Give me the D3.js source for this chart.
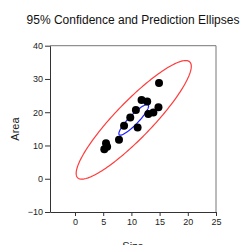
<!DOCTYPE html>
<html><head><meta charset="utf-8">
<script src="https://cdn.jsdelivr.net/npm/d3@7"></script>
<style>body{margin:0;background:#fff}svg{display:block}</style>
</head><body>
<script>
const sizeVals = [14.9, 11.8, 12.8, 14.8, 13.9, 13.0, 10.8, 9.8, 8.7, 11.1, 7.8, 5.5, 5.7, 5.2];
const areaVals = [28.8, 23.7, 23.2, 21.5, 19.9, 19.5, 20.7, 18.4, 15.9, 15.4, 11.7, 10.7, 9.6, 8.9];
const xTicks = [0, 5, 10, 15, 20, 25];
const yTicks = [-10, 0, 10, 20, 30, 40];
const titleText = "95% Confidence and Prediction Ellipses";

const W = 245, H = 245;
const m = {l: 50, r: 29, t: 45.7, b: 33};
const svg = d3.select("body").append("svg").attr("width", W).attr("height", H);
const x = d3.scaleLinear().domain([-4.43, 25]).range([m.l, W - m.r]);
const y = d3.scaleLinear().domain([-10, 40]).range([H - m.b, m.t]);

// frame top/right
svg.append("line").attr("x1", x(-4.43)).attr("x2", x(25)).attr("y1", y(40)).attr("y2", y(40)).attr("stroke", "#777").attr("stroke-width", 1);
svg.append("line").attr("x1", x(25)).attr("x2", x(25)).attr("y1", y(40)).attr("y2", y(-10)).attr("stroke", "#777").attr("stroke-width", 1);

const xa = svg.append("g").attr("transform", `translate(0,${y(-10)})`)
  .call(d3.axisBottom(x).tickValues(xTicks).tickSize(4).tickPadding(3).tickSizeOuter(0));
const ya = svg.append("g").attr("transform", `translate(${x(-4.43)},0)`)
  .call(d3.axisLeft(y).tickValues(yTicks).tickSize(5).tickPadding(2).tickSizeOuter(0));
[xa, ya].forEach(g => {
  g.selectAll("path,line").attr("stroke", "#333").attr("stroke-width", 1);
  g.selectAll("text").attr("font-family", "Liberation Sans, Arial, sans-serif").attr("font-size", 9).attr("fill", "#222");
});

// ellipse computation
const n = sizeVals.length;
const mx = d3.mean(sizeVals), my = d3.mean(areaVals);
let sxx = 0, syy = 0, sxy = 0;
for (let i = 0; i < n; i++) {
  const dx = sizeVals[i] - mx, dy = areaVals[i] - my;
  sxx += dx * dx; syy += dy * dy; sxy += dx * dy;
}
sxx /= (n - 1); syy /= (n - 1); sxy /= (n - 1);
const tr = sxx + syy, det = sxx * syy - sxy * sxy;
const l1 = tr / 2 + Math.sqrt(tr * tr / 4 - det), l2 = tr / 2 - Math.sqrt(tr * tr / 4 - det);
const ang = Math.atan2(l1 - sxx, sxy);
const F = 3.885; // F(0.95; 2, n-2)
const kConf = Math.sqrt(2 * (n - 1) / (n * (n - 2)) * F);
const kPred = Math.sqrt(2 * (n + 1) * (n - 1) / (n * (n - 2)) * F);
function ellipse(k) {
  const pts = [];
  for (let i = 0; i <= 200; i++) {
    const t = i / 200 * 2 * Math.PI;
    const a = k * Math.sqrt(l1) * Math.cos(t), b = k * Math.sqrt(l2) * Math.sin(t);
    pts.push([mx + a * Math.cos(ang) - b * Math.sin(ang), my + a * Math.sin(ang) + b * Math.cos(ang)]);
  }
  return pts;
}
const line = d3.line().x(d => x(d[0])).y(d => y(d[1]));
svg.append("path").attr("d", line(ellipse(kPred))).attr("fill", "none").attr("stroke", "#ff3b3b").attr("stroke-width", 1.2);
svg.append("path").attr("d", line(ellipse(kConf))).attr("fill", "none").attr("stroke", "#2020ff").attr("stroke-width", 1.2);

svg.append("g").selectAll("circle").data(sizeVals).join("circle")
  .attr("cx", d => x(d)).attr("cy", (d, i) => y(areaVals[i])).attr("r", 4).attr("fill", "#000");

svg.append("text").attr("x", 133).attr("y", 24).attr("text-anchor", "middle")
  .attr("font-family", "Liberation Sans, Arial, sans-serif").attr("font-size", 12).attr("fill", "#111").text(titleText);
svg.append("text").attr("x", 133).attr("y", 250).attr("text-anchor", "middle")
  .attr("font-family", "Liberation Sans, Arial, sans-serif").attr("font-size", 11).attr("fill", "#222").text("Size");
svg.append("text").attr("transform", "translate(19,129) rotate(-90)").attr("text-anchor", "middle")
  .attr("font-family", "Liberation Sans, Arial, sans-serif").attr("font-size", 11).attr("fill", "#222").text("Area");
</script>
</body></html>
